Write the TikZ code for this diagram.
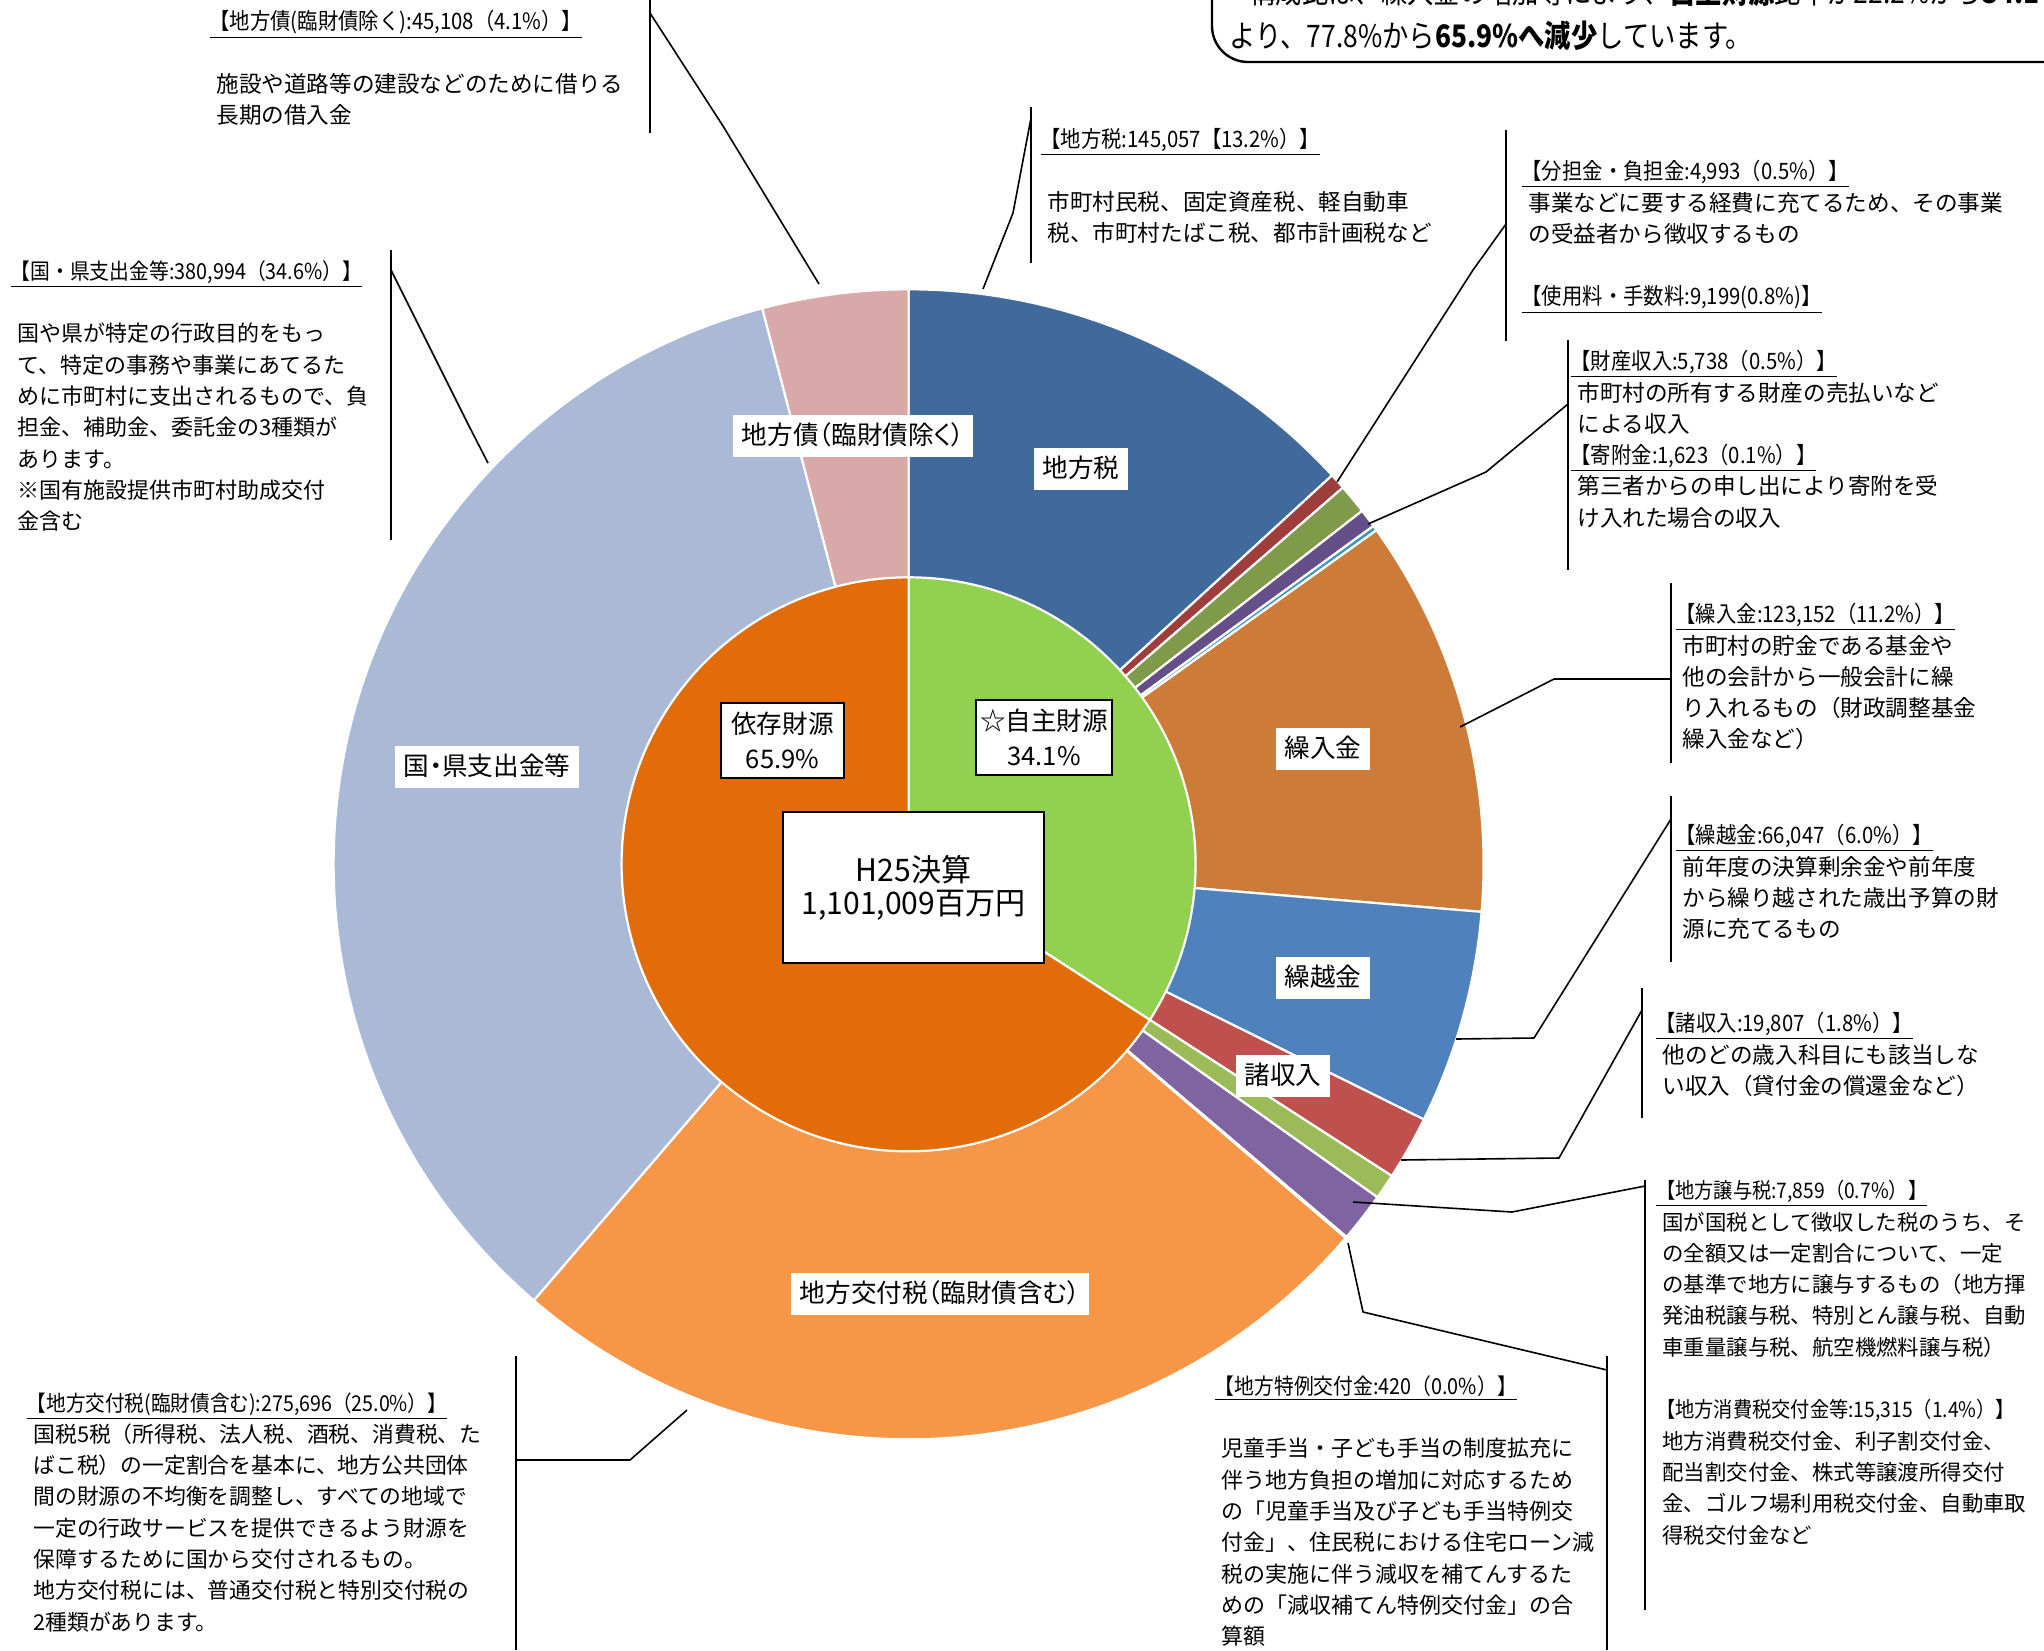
\documentclass[tikz,border=0pt]{standalone}
\usepackage{fontspec}
\setmainfont{Noto Sans CJK JP}
\newfontfamily\jp{Noto Sans CJK JP}
\newfontfamily\jpc[FakeStretch=0.9]{Noto Sans CJK JP}
\newfontfamily\jpn[FakeStretch=0.85]{Noto Sans CJK JP}
\newfontfamily\jpt[FakeStretch=0.97]{Noto Sans CJK JP}
\newfontfamily\jpl[RawFeature=+palt]{Noto Sans CJK JP}
\usetikzlibrary{calc}
\definecolor{cTax}{HTML}{416A9C}
\definecolor{cBun}{HTML}{9E3D3B}
\definecolor{cShi}{HTML}{7F9A48}
\definecolor{cZai}{HTML}{654F88}
\definecolor{cKif}{HTML}{3E97B4}
\definecolor{cKur}{HTML}{CC7B38}
\definecolor{cKos}{HTML}{4F81BD}
\definecolor{cSho}{HTML}{C0504D}
\definecolor{cJyo}{HTML}{9BBB59}
\definecolor{cSyo}{HTML}{8064A2}
\definecolor{cTok}{HTML}{4BACC6}
\definecolor{cKof}{HTML}{F79646}
\definecolor{cKen}{HTML}{AAB9D6}
\definecolor{cSai}{HTML}{D9A9A9}
\definecolor{cJis}{HTML}{92D050}
\definecolor{cIzo}{HTML}{E36C0A}
\newcommand\ttl[1]{\hspace*{-0.3em}{\jpc\underline{#1}}}
\newcommand\pieslice[3]{\filldraw[fill=#3,draw=white,line width=1.1pt,line join=round] (C) -- ++(#1:575) arc[start angle=#1,end angle=#2,radius=575] -- cycle;}
\begin{document}
\begin{tikzpicture}[x=0.5pt,y=0.5pt,
  plabel/.style={fill=white,font=\jpl\fontsize{12.8}{14}\selectfont,inner xsep=4.2pt,inner ysep=4.2pt,text height=10.6pt,text depth=1.8pt},
  ibox/.style={fill=white,draw=black,line width=1pt,align=center,font=\jp\fontsize{12.8}{17.5}\selectfont,minimum width=61.5pt,minimum height=37.5pt,inner sep=2pt},
  ann/.style={anchor=north west,inner sep=0pt,align=left,font=\jp\fontsize{11.3}{15.65}\selectfont},
  conn/.style={draw=black,line width=0.8pt,line join=round},
  vbar/.style={draw=black,line width=1pt}]
\useasboundingbox (0,0) rectangle (2044,-1650);
\coordinate (C) at (908.6,-864.3);
% outer ring (clockwise from top)
\pieslice{90}{42.570}{cTax}
\pieslice{42.570}{40.937}{cBun}
\pieslice{40.937}{37.930}{cShi}
\pieslice{37.930}{36.054}{cZai}
\pieslice{36.054}{35.523}{cKif}
\pieslice{35.523}{-4.744}{cKur}
\pieslice{-4.744}{-26.340}{cKos}
\pieslice{-26.340}{-32.816}{cSho}
\pieslice{-32.816}{-35.386}{cJyo}
\pieslice{-35.386}{-40.393}{cSyo}
\pieslice{-40.393}{-40.530}{cTok}
\pieslice{-40.530}{-130.677}{cKof}
\pieslice{-130.677}{-255.251}{cKen}
\pieslice{-255.251}{-270}{cSai}
% inner pie
\filldraw[fill=cJis,draw=white,line width=1.1pt] (C) -- ++(90:287) arc[start angle=90,end angle=-32.816,radius=287] -- cycle;
\filldraw[fill=cIzo,draw=white,line width=1.1pt] (C) -- ++(-32.816:287) arc[start angle=-32.816,end angle=-270,radius=287] -- cycle;
% slice labels
\node[plabel] (lSai) at (853,-436) {地方債（臨財債除く）};
\node[plabel] (lTax) at (1081,-469) {地方税};
\node[plabel] (lKur) at (1323,-749) {繰入金};
\node[plabel] (lKos) at (1323,-978) {繰越金};
\node[plabel] (lSho) at (1283,-1076) {諸収入};
\node[plabel] (lKof) at (940,-1294) {地方交付税（臨財債含む）};
\node[plabel] (lKen) at (487,-767) {国・県支出金等};
\node[ibox] (bIzo) at (782.5,-740.5) {依存財源\\65.9\%};
\node[ibox] (bJis) at (1044,-737) {☆自主財源\\34.1\%};
\node[fill=white,draw=black,line width=1.3pt,align=center,font=\jpt\fontsize{15.5}{16.4}\selectfont,minimum width=130.5pt,minimum height=75.5pt] (bTot) at (913.5,-887.5) {H25決算\\1,101,009百万円};
% top right note box
\draw[line width=1.2pt,rounded corners=18pt] (2100,-62) -- (1212,-62) -- (1212,40);
\node[anchor=west,inner sep=0pt,font=\jpn\fontsize{15.5}{17}\selectfont] (note1) at (1249,8) {構成比は、繰入金の増加等により、\textbf{自主財源}比率が22.2\%から\textbf{34.1\%}};
\node[anchor=west,inner sep=0pt,font=\jpn\fontsize{15.5}{17}\selectfont] (note2) at (1229,-36) {より、77.8\%から\textbf{65.9\%へ減少}しています。};
% annotation blocks
\node[ann] (aSai) at (216,-10) {\ttl{【地方債(臨財債除く):45,108（4.1\%）】}\\[15.65pt]施設や道路等の建設などのために借りる\\長期の借入金};
\node[ann] (aTax) at (1047,-128) {\ttl{【地方税:145,057【13.2\%）】}\\[15.65pt]市町村民税、固定資産税、軽自動車\\税、市町村たばこ税、都市計画税など};
\node[ann] (aBun) at (1528,-160) {\ttl{【分担金・負担金:4,993（0.5\%）】}\\事業などに要する経費に充てるため、その事業\\の受益者から徴収するもの\\[15.65pt]\ttl{【使用料・手数料:9,199(0.8\%)】}};
\node[ann] (aZai) at (1577,-350) {\ttl{【財産収入:5,738（0.5\%）】}\\市町村の所有する財産の売払いなど\\による収入\\\ttl{【寄附金:1,623（0.1\%）】}\\第三者からの申し出により寄附を受\\け入れた場合の収入};
\node[ann,font=\jp\fontsize{11.0}{15.65}\selectfont] (aKen) at (17,-260) {\ttl{【国・県支出金等:380,994（34.6\%）】}\\[15.65pt]国や県が特定の行政目的をもっ\\て、特定の事務や事業にあてるた\\めに市町村に支出されるもので、負\\担金、補助金、委託金の3種類が\\あります。\\※国有施設提供市町村助成交付\\金含む};
\node[ann] (aKur) at (1682,-603) {\ttl{【繰入金:123,152（11.2\%）】}\\市町村の貯金である基金や\\他の会計から一般会計に繰\\り入れるもの（財政調整基金\\繰入金など）};
\node[ann] (aKos) at (1682,-824) {\ttl{【繰越金:66,047（6.0\%）】}\\前年度の決算剰余金や前年度\\から繰り越された歳出予算の財\\源に充てるもの};
\node[ann] (aSho) at (1662,-1012) {\ttl{【諸収入:19,807（1.8\%）】}\\他のどの歳入科目にも該当しな\\い収入（貸付金の償還金など）};
\node[ann,font=\jp\fontsize{10.7}{15.65}\selectfont] (aJyo) at (1662,-1180) {\ttl{【地方譲与税:7,859（0.7\%）】}\\国が国税として徴収した税のうち、そ\\の全額又は一定割合について、一定\\の基準で地方に譲与するもの（地方揮\\発油税譲与税、特別とん譲与税、自動\\車重量譲与税、航空機燃料譲与税）\\[15.65pt]\hspace*{-0.3em}{\jpc【地方消費税交付金等:15,315（1.4\%）】}\\地方消費税交付金、利子割交付金、\\配当割交付金、株式等譲渡所得交付\\金、ゴルフ場利用税交付金、自動車取\\得税交付金など};
\node[ann,font=\jp\fontsize{11.0}{15.65}\selectfont] (aTok) at (1221,-1375) {\ttl{【地方特例交付金:420（0.0\%）】}\\[15.65pt]児童手当・子ども手当の制度拡充に\\伴う地方負担の増加に対応するため\\の「児童手当及び子ども手当特例交\\付金」、住民税における住宅ローン減\\税の実施に伴う減収を補てんするた\\めの「減収補てん特例交付金」の合\\算額};
\node[ann,font=\jp\fontsize{10.9}{15.65}\selectfont] (aKof) at (33,-1392) {\ttl{【地方交付税(臨財債含む):275,696（25.0\%）】}\\国税5税（所得税、法人税、酒税、消費税、た\\ばこ税）の一定割合を基本に、地方公共団体\\間の財源の不均衡を調整し、すべての地域で\\一定の行政サービスを提供できるよう財源を\\保障するために国から交付されるもの。\\地方交付税には、普通交付税と特別交付税の\\2種類があります。};
% vertical bars
\draw[vbar] (650,0) -- (650,-133);
\draw[vbar] (1031,-107) -- (1031,-263);
\draw[vbar] (1506,-130) -- (1506,-341);
\draw[vbar] (1568,-340) -- (1568,-570);
\draw[vbar] (391,-250) -- (391,-540);
\draw[vbar] (1671,-583) -- (1671,-763);
\draw[vbar] (1671,-796) -- (1671,-962);
\draw[vbar] (1642,-988) -- (1642,-1118);
\draw[vbar] (1645,-1180) -- (1645,-1610);
\draw[vbar] (1607,-1356) -- (1607,-1650);
\draw[vbar] (516,-1356) -- (516,-1650);
% connector end points
\coordinate (pSai) at (819,-284);
\coordinate (pTax) at (983,-289);
\coordinate (pBun) at (1337,-482);
\coordinate (pZai) at (1368,-524);
\coordinate (pKen) at (488,-463);
\coordinate (pKur) at (1460,-727);
\coordinate (pKos) at (1456,-1039);
\coordinate (pSho) at (1401,-1160);
\coordinate (pSyo) at (1353,-1202);
\coordinate (pTok) at (1348,-1243);
\coordinate (pKof) at (687,-1410);
% connectors
\draw[conn] (650,-13) -- (723,-126) -- (pSai);
\draw[conn] (1031,-118) -- (1013,-213) -- (pTax);
\draw[conn] (1506,-224) -- (1473,-270) -- (pBun);
\draw[conn] (1568,-404) -- (1486,-472) -- (pZai);
\draw[conn] (391,-270) -- (470,-428) -- (pKen);
\draw[conn] (1671,-679) -- (1554,-679) -- (pKur);
\draw[conn] (1671,-819) -- (1534,-1038) -- (pKos);
\draw[conn] (1642,-1010) -- (1559,-1158) -- (pSho);
\draw[conn] (1645,-1186) -- (1512,-1212) -- (pSyo);
\draw[conn] (1607,-1370) -- (1363,-1312) -- (pTok);
\draw[conn] (516,-1460) -- (630,-1460) -- (pKof);
\end{tikzpicture}
\end{document}
